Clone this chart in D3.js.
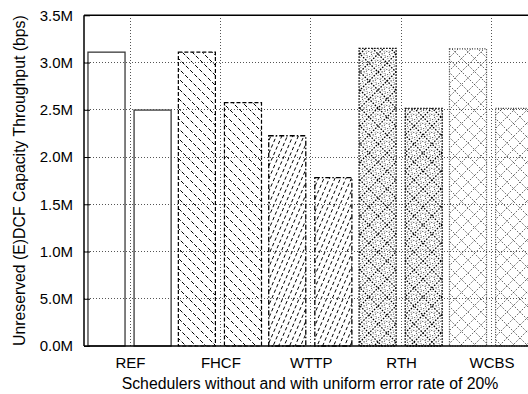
<!DOCTYPE html>
<html>
<head>
<meta charset="utf-8">
<script src="https://cdn.jsdelivr.net/npm/d3@7"></script>
<style>
  body { margin: 0; background: #fff; }
  svg { display: block; }
  text { font-family: "Liberation Sans", Arial, sans-serif; font-size: 15px; fill: #000; }
</style>
</head>
<body>
<svg id="chart" width="528" height="394"></svg>
<script>
// Unreserved (E)DCF capacity throughput per scheduler, in Mbps
const schedulers = ["REF", "FHCF", "WTTP", "RTH", "WCBS"];
const withoutErrors = [3.11, 3.11, 2.225, 3.15, 3.145];
const withErrors = [2.497, 2.575, 1.781, 2.515, 2.515];
const yTickValues = [0, 0.5, 1.0, 1.5, 2.0, 2.5, 3.0, 3.5];
const yTickLabels = ["0.0M", "5.0M", "1.0M", "1.5M", "2.0M", "2.5M", "3.0M", "3.5M"];
const yTitle = "Unreserved (E)DCF Capacity Throughput (bps)";
const xTitle = "Schedulers without and with uniform error rate of 20%";

const W = 528, H = 394;
const plot = { left: 84, top: 15.3, bottom: 346, right: 536 };

const svg = d3.select("#chart");
svg.append("rect").attr("width", W).attr("height", H).attr("fill", "#fff");

const y = d3.scaleLinear().domain([0, 3.5]).range([plot.bottom, plot.top]);
const x = d3.scaleLinear().domain([0, 4]).range([130, 491.5]);

// Outline and fill style for each scheduler's pair of bars
const styles = [
  { stroke: "#3a3a3a", dash: null, width: 1.3, fill: [] },
  { stroke: "#000", dash: "4,2", width: 1.2,
    fill: [{ dir: [1, 1], hsp: 10, dash: "4,2", color: "#000", w: 1 }] },
  { stroke: "#000", dash: "5,2,1.5,2", width: 1.3,
    fill: [{ dir: [1, -2.3], hsp: 5.5, dash: "3.5,2.5", color: "#000", w: 1 }] },
  { stroke: "#000", dash: "1.5,1.5", width: 1.4,
    fill: [{ dir: [1, 1], hsp: 18, dash: "1.6,1.4", color: "#000", w: 1.3 },
           { dir: [1, -1], hsp: 18, dash: "1.6,1.4", color: "#000", w: 1.3 }],
    ornaments: 18 },
  { stroke: "#333", dash: "1,1.5", width: 1.2,
    fill: [{ dir: [1, 1], hsp: 13, dash: "1,1.5", color: "#333", w: 1 },
           { dir: [1, -1], hsp: 13, dash: "1,1.5", color: "#333", w: 1 }] }
];

// Parallel lines anchored to the page origin, covering rectangle r
function hatchLines(r, dir, hsp) {
  const len = Math.hypot(dir[0], dir[1]);
  const d = [dir[0] / len, dir[1] / len];
  const n = [-d[1], d[0]];
  const spacing = hsp * Math.abs(n[0]);
  const corners = [[r.x0, r.y0], [r.x1, r.y0], [r.x0, r.y1], [r.x1, r.y1]];
  const ts = corners.map(c => c[0] * n[0] + c[1] * n[1]);
  const ss = corners.map(c => c[0] * d[0] + c[1] * d[1]);
  const tmin = Math.min(...ts), tmax = Math.max(...ts);
  const smin = Math.min(...ss) - 3, smax = Math.max(...ss) + 3;
  const out = [];
  for (let k = Math.floor(tmin / spacing); k * spacing <= tmax; k++) {
    const t = k * spacing;
    out.push([[n[0] * t + d[0] * smin, n[1] * t + d[1] * smin],
              [n[0] * t + d[0] * smax, n[1] * t + d[1] * smax]]);
  }
  return out;
}

const bars = [];
schedulers.forEach((s, i) => {
  bars.push({ i, value: withoutErrors[i], a: i - 0.465, b: i - 0.055 });
  bars.push({ i, value: withErrors[i], a: i + 0.045, b: i + 0.455 });
});

const defs = svg.append("defs");
const barLayer = svg.append("g");

bars.forEach((bar, k) => {
  const st = styles[bar.i];
  const r = { x0: x(bar.a), x1: x(bar.b), y0: y(bar.value), y1: y(0) };
  const id = "clip" + k;
  defs.append("clipPath").attr("id", id)
    .append("rect").attr("x", r.x0).attr("y", r.y0)
    .attr("width", r.x1 - r.x0).attr("height", r.y1 - r.y0);
  const g = barLayer.append("g").attr("clip-path", `url(#${id})`);
  st.fill.forEach(f => {
    g.selectAll(null).data(hatchLines(r, f.dir, f.hsp)).join("line")
      .attr("x1", l => l[0][0]).attr("y1", l => l[0][1])
      .attr("x2", l => l[1][0]).attr("y2", l => l[1][1])
      .attr("stroke", f.color).attr("stroke-width", f.w)
      .attr("stroke-dasharray", f.dash);
  });
  if (st.ornaments) {
    // rings and small diamonds in the middle of each lattice cell
    const P = st.ornaments, pts = [];
    const jmin = Math.floor((r.x0 + r.y0) / P) - 1, jmax = Math.ceil((r.x1 + r.y1) / P) + 1;
    const kmin = Math.floor((r.x0 - r.y1) / P) - 1, kmax = Math.ceil((r.x1 - r.y0) / P) + 1;
    for (let j = jmin; j <= jmax; j++) for (let m = kmin; m <= kmax; m++) {
      const cx = (j + m + 1) * P / 2, cy = (j - m) * P / 2;
      if (cx > r.x0 - P && cx < r.x1 + P && cy > r.y0 - P && cy < r.y1 + P) pts.push([cx, cy]);
    }
    g.selectAll(null).data(pts).join("circle")
      .attr("cx", p => p[0]).attr("cy", p => p[1]).attr("r", 2.6)
      .attr("fill", "none").attr("stroke", "#000").attr("stroke-width", 0.9)
      .attr("stroke-dasharray", "1,1.8");
    const h = P * 0.3;
    g.selectAll(null).data(pts).join("path")
      .attr("d", p => `M${p[0] - h},${p[1]}L${p[0]},${p[1] - h}L${p[0] + h},${p[1]}L${p[0]},${p[1] + h}Z`)
      .attr("fill", "none").attr("stroke", "#000").attr("stroke-width", 0.9)
      .attr("stroke-dasharray", "1,2.6");
  }
  barLayer.append("rect")
    .attr("x", r.x0).attr("y", r.y0)
    .attr("width", r.x1 - r.x0).attr("height", r.y1 - r.y0)
    .attr("fill", "none").attr("stroke", st.stroke)
    .attr("stroke-width", st.width).attr("stroke-dasharray", st.dash);
});

// Dotted grid
const grid = svg.append("g").attr("stroke", "#555").attr("stroke-width", 1)
  .attr("stroke-dasharray", "1,2").attr("shape-rendering", "crispEdges");
grid.selectAll(null).data(yTickValues.filter(v => v > 0 && v < 3.5)).join("line")
  .attr("x1", plot.left).attr("x2", W).attr("y1", d => y(d)).attr("y2", d => y(d));
grid.selectAll(null).data(d3.range(schedulers.length)).join("line")
  .attr("x1", d => x(d)).attr("x2", d => x(d)).attr("y1", plot.top).attr("y2", plot.bottom);

// Axes
const yAxis = d3.axisLeft(y).tickValues(yTickValues)
  .tickFormat((d, i) => yTickLabels[i]).tickSizeInner(-6).tickSizeOuter(0).tickPadding(11);
const gy = svg.append("g").attr("transform", `translate(${plot.left},0)`).call(yAxis);
gy.select(".domain").remove();
gy.selectAll("line").attr("stroke", "#000");
gy.selectAll("text").attr("font-size", 15).attr("font-family", null);

const xAxis = d3.axisBottom(x).tickValues(d3.range(schedulers.length))
  .tickFormat(i => schedulers[i]).tickSize(0).tickPadding(11);
const gx = svg.append("g").attr("transform", `translate(0,${plot.bottom})`).call(xAxis);
gx.select(".domain").remove();
gx.selectAll("text").attr("font-size", 15).attr("font-family", null);

// Frame
const frame = svg.append("g").attr("stroke", "#000").attr("stroke-width", 1.5);
frame.append("line").attr("x1", plot.left).attr("x2", plot.left).attr("y1", plot.top).attr("y2", plot.bottom);
frame.append("line").attr("x1", plot.left).attr("x2", W).attr("y1", plot.top).attr("y2", plot.top);
frame.append("line").attr("x1", plot.left).attr("x2", W).attr("y1", plot.bottom).attr("y2", plot.bottom);

// Titles
svg.append("text").attr("transform", "rotate(-90)")
  .attr("x", -(plot.top + plot.bottom) / 2).attr("y", 25)
  .attr("text-anchor", "middle").style("font-size", "15.8px").text(yTitle);
svg.append("text").attr("x", (plot.left + plot.right) / 2).attr("y", 389)
  .attr("text-anchor", "middle").style("font-size", "15.8px").text(xTitle);
</script>
</body>
</html>
